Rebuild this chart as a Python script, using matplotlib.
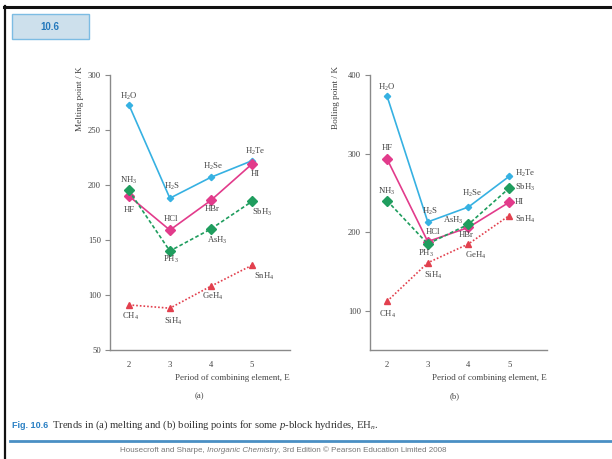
import matplotlib
matplotlib.use("Agg")
import matplotlib.pyplot as plt
from matplotlib.patches import Rectangle
from matplotlib.lines import Line2D

plt.rcParams['font.family'] = ['Liberation Serif', 'DejaVu Serif']
plt.rcParams['mathtext.fontset'] = 'custom'
plt.rcParams['mathtext.rm'] = 'Liberation Serif'
plt.rcParams['mathtext.it'] = 'Liberation Serif:italic'

# ---- data ----
periods = [2, 3, 4, 5]
group16_names = ['H$_2$O', 'H$_2$S', 'H$_2$Se', 'H$_2$Te']
group17_names = ['HF', 'HCl', 'HBr', 'HI']
group15_names = ['NH$_3$', 'PH$_3$', 'AsH$_3$', 'SbH$_3$']
group14_names = ['CH$_4$', 'SiH$_4$', 'GeH$_4$', 'SnH$_4$']

mp_group16 = [273, 188, 207, 222]
mp_group17 = [190, 159, 186, 219]
mp_group15 = [195, 140, 160, 185]
mp_group14 = [91, 88, 108, 127]

bp_group16 = [373, 213, 232, 271]
bp_group17 = [293, 188, 206, 238]
bp_group15 = [240, 185, 210, 256]
bp_group14 = [112, 161, 185, 221]

mp_ticks = [50, 100, 150, 200, 250, 300]
bp_ticks = [100, 200, 300, 400]

W, H = 612, 459
fig = plt.figure(figsize=(W / 100, H / 100), dpi=100)
fig.patch.set_facecolor('white')

def fx(x):
    return x / W

def fy(y):
    return 1 - y / H

C16 = '#36b1e2'
C17 = '#e23b8b'
C15 = '#1f9d5e'
C14 = '#e2404e'
TXT = '#444444'
FS = 6.2

styles = [
    (C16, '-', 'D', 3.2),
    (C17, '-', 'D', 4.6),
    (C15, (0, (2.2, 1.4)), 'D', 4.6),
    (C14, (0, (1.0, 1.2)), '^', 4.6),
]

def make_axes(rect, xlim, ylim, yticks):
    ax = fig.add_axes(rect)
    ax.set_xlim(*xlim)
    ax.set_ylim(*ylim)
    ax.set_yticks(yticks)
    ax.set_xticks(periods)
    for s in ['top', 'right']:
        ax.spines[s].set_visible(False)
    for s in ['left', 'bottom']:
        ax.spines[s].set_color('#8a8a8a')
        ax.spines[s].set_linewidth(1.0)
    ax.tick_params(axis='y', length=3.5, width=0.8, color='#8a8a8a',
                   labelsize=FS, labelcolor=TXT, pad=3)
    ax.tick_params(axis='x', length=0, labelsize=FS, labelcolor=TXT, pad=8)
    ax.set_facecolor('none')
    return ax

def draw(ax, series, labels_list, offsets_list):
    for (vals, names, offs), (col, ls, mk, ms) in zip(
            zip(series, labels_list, offsets_list), styles):
        ax.plot(periods, vals, color=col, linestyle=ls, lw=1.2,
                marker=mk, ms=ms, mec=col, mfc=col, clip_on=False)
        for x, y, name, (dx, dy, ha) in zip(periods, vals, names, offs):
            ax.annotate(name, (x, y), xytext=(dx, dy),
                        textcoords='offset pixels', ha=ha, va='center',
                        fontsize=FS, color=TXT)

# ---- left panel (melting points) ----
axL = make_axes([fx(110), fy(350), fx(290) - fx(110), fy(75) - fy(350)],
                (1.54, 5.93), (50, 300), mp_ticks)
offL = [
    [(0, 8, 'center'), (2, 12, 'center'), (2, 11, 'center'), (3, 9, 'center')],
    [(0, -14, 'center'), (1, 11, 'center'), (1, -9, 'center'), (3, -10, 'center')],
    [(0, 10, 'center'), (1, -8, 'center'), (6, -11, 'center'), (10, -11, 'center')],
    [(2, -11, 'center'), (3, -13, 'center'), (2, -10, 'center'), (12, -11, 'center')],
]
draw(axL, [mp_group16, mp_group17, mp_group15, mp_group14],
     [group16_names, group17_names, group15_names, group14_names], offL)

# ---- right panel (boiling points) ----
axR = make_axes([fx(370), fy(350), fx(547) - fx(370), fy(75) - fy(350)],
                (1.58, 5.93), (50, 400), bp_ticks)
offR = [
    [(0, 9, 'center'), (2, 11, 'center'), (4, 14, 'center'), (6, 3, 'left')],
    [(0, 11, 'center'), (5, 10, 'center'), (-2, -8, 'center'), (6, 0, 'left')],
    [(0, 9, 'center'), (-2, -9, 'center'), (-15, 4, 'center'), (6, 1, 'left')],
    [(0, -13, 'center'), (5, -13, 'center'), (7, -11, 'center'), (6, -4, 'left')],
]
draw(axR, [bp_group16, bp_group17, bp_group15, bp_group14],
     [group16_names, group17_names, group15_names, group14_names], offR)

# axis titles
fig.text(fx(80), fy(66), 'Melting point / K', rotation=90, ha='center',
         va='top', fontsize=6.7, color=TXT)
fig.text(fx(336), fy(66), 'Boiling point / K', rotation=90, ha='center',
         va='top', fontsize=6.7, color=TXT)
fig.text(fx(290), fy(378), 'Period of combining element, E', ha='right',
         va='center', fontsize=6.5, color=TXT)
fig.text(fx(547), fy(378), 'Period of combining element, E', ha='right',
         va='center', fontsize=6.5, color=TXT)
fig.text(fx(199), fy(396), '(a)', ha='center', va='center', fontsize=FS,
         color=TXT)
fig.text(fx(455), fy(396), '(b)', ha='center', va='center', fontsize=FS,
         color=TXT)

# frame lines
fig.add_artist(Line2D([fx(5), fx(5)], [0, fy(6)], color='#111111', lw=1.6))
fig.add_artist(Line2D([fx(4), 1], [fy(7), fy(7)], color='#111111', lw=2.2))

# title box
fig.add_artist(Rectangle((fx(12), fy(39)), fx(89) - fx(12), fy(14) - fy(39),
                         facecolor='#cde0ec', edgecolor='#7cbce3', lw=1.0,
                         transform=fig.transFigure))
fig.text(fx(50), fy(26.5), '10.6', ha='center', va='center', fontsize=7,
         color='#2277bb', fontweight='bold', family='Liberation Sans')

# caption
fig.text(fx(12), fy(425), 'Fig. 10.6', ha='left', va='center', fontsize=6.5,
         color='#2a80c4', fontweight='bold', family='Liberation Sans')
fig.text(fx(52), fy(425),
         r'Trends in (a) melting and (b) boiling points for some $\it{p}$-block hydrides, EH$_{\it{n}}$.',
         ha='left', va='center', fontsize=7.7, color='#333333')
fig.add_artist(Line2D([fx(10), 1], [fy(441), fy(441)], color='#4a8fc4', lw=2.0))

# footer in three pieces (sans, with italic book title)
footer_parts = [('Housecroft and Sharpe, ', 'normal'),
                ('Inorganic Chemistry', 'italic'),
                (', 3rd Edition © Pearson Education Limited 2008', 'normal')]
renderer = fig.canvas.get_renderer()
texts = []
for s, st in footer_parts:
    t = fig.text(0, fy(451), s, ha='left', va='center', fontsize=5.8,
                 color='#777777', family='Liberation Sans', style=st)
    texts.append(t)
widths = [t.get_window_extent(renderer).width for t in texts]
x0 = 283 - sum(widths) / 2
for t, w in zip(texts, widths):
    t.set_x(fx(x0))
    x0 += w

fig.savefig('out.png', dpi=100)
